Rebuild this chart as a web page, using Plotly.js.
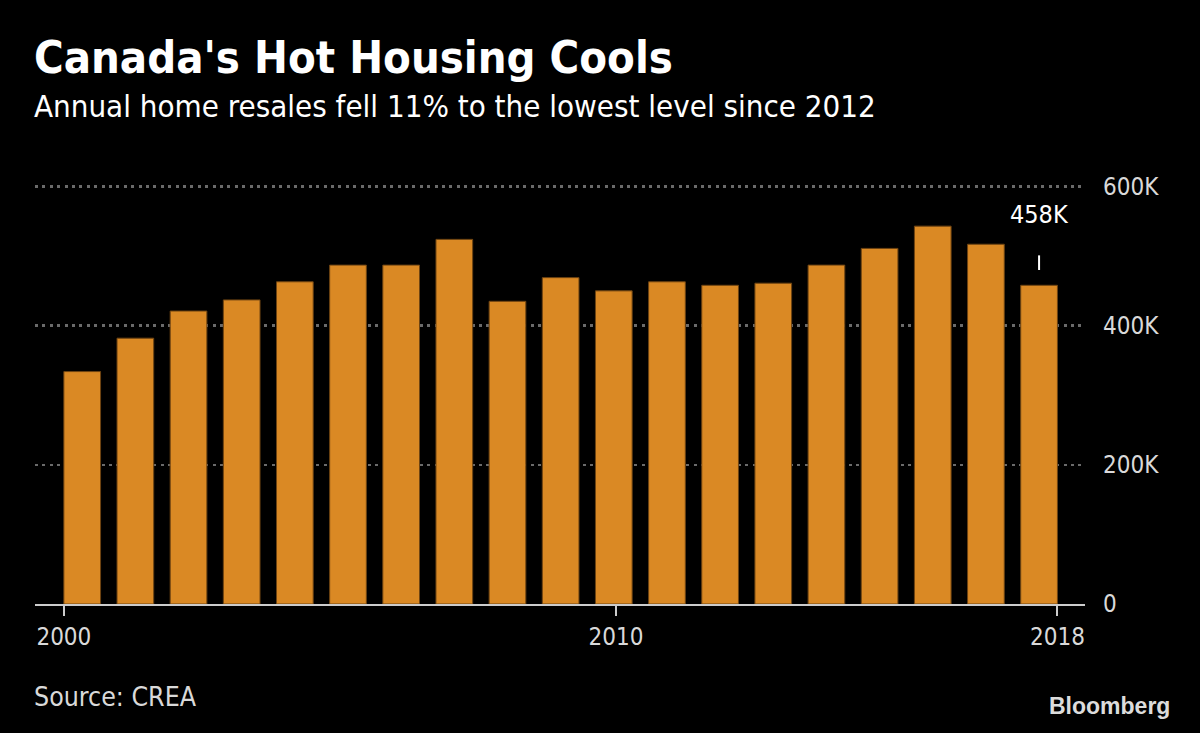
<!DOCTYPE html>
<html>
<head>
<meta charset="utf-8">
<script src="https://cdn.plot.ly/plotly-3.0.1.min.js"></script>
<style>
  html, body { margin: 0; padding: 0; background: #000; }
  #chart { width: 1200px; height: 733px; }
</style>
</head>
<body>
<div id="chart"></div>
<script>
// Annual home resales in Canada (thousands), source: CREA
const years = [2000, 2001, 2002, 2003, 2004, 2005, 2006, 2007, 2008, 2009,
               2010, 2011, 2012, 2013, 2014, 2015, 2016, 2017, 2018];
const resales = [334, 382, 421, 437, 463, 487, 487, 524, 435, 469,
                 450, 463, 458, 461, 487, 511, 543, 517, 458];
const yTickVals = [0, 200, 400, 600];
const yTickText = ['0', '200K', '400K', '600K'];
const xTickText = ['2000', '2010', '2018'];

const titleText = "Canada's Hot Housing Cools";
const subtitleText = "Annual home resales fell 11% to the lowest level since 2012";
const sourceText = "Source: CREA";

const FONT = '"DejaVu Sans Condensed", "DejaVu Sans", sans-serif';
const BAR_W = 0.69;
const lastIdx = years.length - 1;
const lastYear = years[lastIdx];
const lastVal = resales[lastIdx];

const trace = {
  type: 'bar',
  x: years,
  y: resales,
  width: BAR_W,
  marker: { color: '#DA8924', line: { color: '#6e4412', width: 1 } },
  hoverinfo: 'x+y'
};

const layout = {
  width: 1200,
  height: 733,
  paper_bgcolor: '#000',
  plot_bgcolor: '#000',
  margin: { l: 35, r: 115, t: 183, b: 129 },
  showlegend: false,
  font: { family: FONT, color: '#d9d9d9', size: 24 },
  xaxis: {
    range: [1999.112, 2018.864],
    tickmode: 'array',
    tickvals: [years[0] - BAR_W / 2, 2010.04, lastYear + BAR_W / 2],
    ticktext: xTickText,
    ticks: 'outside',
    ticklen: 10,
    tickwidth: 2,
    tickcolor: '#cccccc',
    showgrid: false,
    zeroline: false,
    showline: true,
    linecolor: '#cccccc',
    linewidth: 2,
    tickfont: { family: FONT, size: 24, color: '#d9d9d9' },
    fixedrange: true
  },
  yaxis: {
    range: [0, 605],
    side: 'right',
    tickmode: 'array',
    tickvals: yTickVals,
    ticktext: yTickText,
    ticks: '',
    showgrid: true,
    gridcolor: '#6a6a6a',
    gridwidth: 2.5,
    griddash: '3px,4.4px',
    zeroline: false,
    showline: false,
    ticklabelstandoff: 17,
    tickfont: { family: FONT, size: 24, color: '#d9d9d9' },
    fixedrange: true
  },
  shapes: [{
    type: 'line',
    xref: 'x', yref: 'y',
    x0: lastYear, x1: lastYear,
    y0: lastVal + 22, y1: lastVal + 43,
    line: { color: '#ffffff', width: 2 }
  }],
  annotations: [
    {
      text: '<b>' + titleText + '</b>',
      xref: 'paper', yref: 'paper',
      x: 0, y: 1,
      xshift: -3, yshift: 126,
      xanchor: 'left', yanchor: 'middle',
      showarrow: false,
      font: { family: FONT, size: 45, color: '#ffffff' }
    },
    {
      text: subtitleText,
      xref: 'paper', yref: 'paper',
      x: 0, y: 1,
      xshift: -3, yshift: 77,
      xanchor: 'left', yanchor: 'middle',
      showarrow: false,
      font: { family: FONT, size: 31, color: '#ffffff' }
    },
    {
      text: lastVal + 'K',
      xref: 'x', yref: 'y',
      x: lastYear, y: lastVal,
      yshift: 71,
      xanchor: 'center', yanchor: 'middle',
      showarrow: false,
      font: { family: FONT, size: 25, color: '#ffffff' }
    },
    {
      text: sourceText,
      xref: 'paper', yref: 'paper',
      x: 0, y: 0,
      xshift: -3, yshift: -92,
      xanchor: 'left', yanchor: 'middle',
      showarrow: false,
      font: { family: FONT, size: 26.5, color: '#d9d9d9' }
    },
    {
      text: '<b>Bloomberg</b>',
      xref: 'paper', yref: 'paper',
      x: 1, y: 0,
      xshift: 87, yshift: -102,
      xanchor: 'right', yanchor: 'middle',
      showarrow: false,
      font: { family: '"Liberation Sans", Arial, sans-serif', size: 23, color: '#dcdcdc' }
    }
  ]
};

Plotly.newPlot('chart', [trace], layout, { displayModeBar: false, staticPlot: true });
</script>
</body>
</html>
